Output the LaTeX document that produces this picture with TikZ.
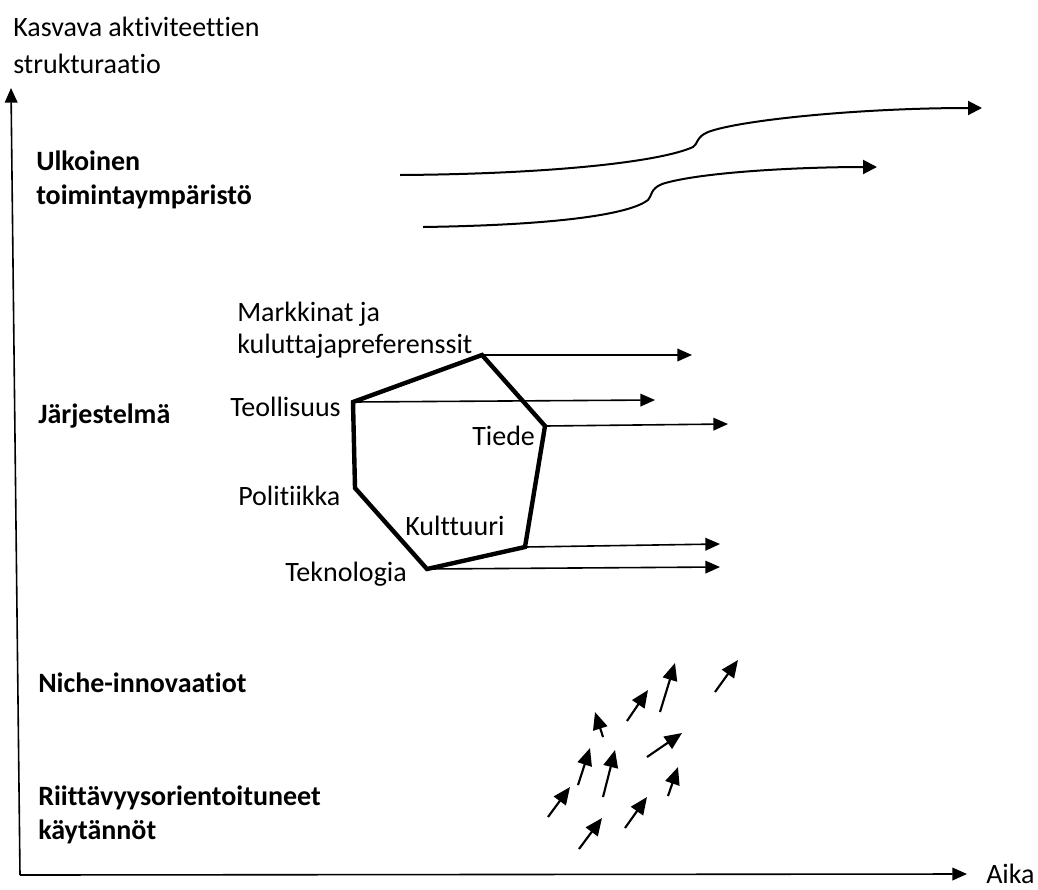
\documentclass[tikz,border=0pt]{standalone}
\usepackage{fontspec}
\setmainfont{Carlito}[Ligatures=NoCommon]
\usetikzlibrary{
    arrows.meta,
    calc,
    positioning
}

\begin{document}
\begin{tikzpicture}[x=0.75pt, y=-0.75pt,
    txt/.style={inner sep=0pt, align=left, font=\fontsize{21}{24.5}\selectfont},
    bold/.style={inner sep=0pt, align=left, font=\fontsize{21}{25}\selectfont\bfseries},
    axis/.style={line width=1.2pt, -{Triangle[length=11pt, width=9.5pt]}},
    trend/.style={line width=1.5pt, -{Triangle[length=10.5pt, width=10.5pt]}},
    edge/.style={line width=3.3pt, line join=miter},
    flow/.style={line width=1.2pt, -{Triangle[length=11pt, width=9.5pt]}},
    niche/.style={line width=1.6pt, -{Triangle[length=13pt, width=11pt]}}]
                        \useasboundingbox (0,0) rectangle (1038,889);

                        % axes
                        \coordinate (origin) at (20,875);
                        \coordinate (ytip) at (11,88);
                        \coordinate (xtip) at (967,874);
                        \draw[axis] (origin) -- (ytip);
                        \draw[axis] (origin) -- (xtip);
                        \node[txt, anchor=north west, font=\fontsize{21}{27.5}\selectfont] (ylabel) at (13,17) {Kasvava aktiviteettien\\strukturaatio};
                        \node[txt, anchor=base west] (xlabel) at (986,883) {Aika};

                        % levels
                        \node[bold, anchor=north west] (ulkoinen) at (36,151) {Ulkoinen\\toimintaympäristö};
                        \node[bold, anchor=base west] (jarjestelma) at (38,423) {Järjestelmä};
                        \node[bold, anchor=base west] (niche) at (38,692) {Niche-innovaatiot};
                        \node[bold, anchor=north west] (riittavyys) at (38,786) {Riittävyysorientoituneet\\käytännöt};

                        % landscape trends
                        \coordinate (up1) at (400,175);
                        \coordinate (up2) at (693,147);
                        \coordinate (up3) at (708,132);
                        \coordinate (upend) at (982,108);
                        \draw[trend] (up1) .. controls (550,174) and (660,162) .. (up2)
                            .. controls (698,144) and (696,137) .. (up3)
                            .. controls (740,120) and (860,108) .. (upend);
                        \coordinate (lo1) at (423,227);
                        \coordinate (lo2) at (648,200);
                        \coordinate (lo3) at (662,184);
                        \coordinate (loend) at (877,167);
                        \draw[trend] (lo1) .. controls (560,225) and (630,214) .. (lo2)
                            .. controls (652,196) and (650,189) .. (lo3)
                            .. controls (700,172) and (800,167) .. (loend);

                        % regime
                        \coordinate (teollisuus) at (353,402);
                        \coordinate (markkinat) at (482,355);
                        \coordinate (tiede) at (545,426);
                        \coordinate (kulttuuri) at (525,547);
                        \coordinate (teknologia) at (427,569);
                        \coordinate (politiikka) at (355,488);
                        \draw[edge] (teollisuus) -- (markkinat) -- (tiede) -- (kulttuuri) -- (teknologia) -- (politiikka) -- cycle;

                        \coordinate (markkinat-end) at (692,355);
                        \coordinate (teollisuus-end) at (655,400);
                        \coordinate (tiede-end) at (728,424);
                        \coordinate (kulttuuri-end) at (720,544);
                        \coordinate (teknologia-end) at (720,567);
                        \draw[flow] (markkinat) -- (markkinat-end);
                        \draw[flow] (teollisuus) -- (teollisuus-end);
                        \draw[flow] (tiede) -- (tiede-end);
                        \draw[flow] (kulttuuri) -- (kulttuuri-end);
                        \draw[flow] (teknologia) -- (teknologia-end);

                        \node[txt, anchor=north west, font=\fontsize{21}{23.5}\selectfont] (markkinat-lbl) at (237,302) {Markkinat ja\\kuluttajapreferenssit};
                        \node[txt, anchor=base west] (teollisuus-lbl) at (230,416) {Teollisuus};
                        \node[txt, anchor=base west] (tiede-lbl) at (472,445) {Tiede};
                        \node[txt, anchor=base west] (politiikka-lbl) at (238,505) {Politiikka};
                        \node[txt, anchor=base west] (kulttuuri-lbl) at (405,535) {Kulttuuri};
                        \node[txt, anchor=base west] (teknologia-lbl) at (285,581) {Teknologia};

                        % niches
                        \foreach \i/\xa/\ya/\xb/\yb in {1/715/692/738/660, 2/660/712/675/663, 3/627/721/648/690,
                                4/603/737/595/712, 5/647/757/682/733, 6/578/785/590/748, 7/603/797/615/750,
                                8/548/817/570/787, 9/668/796/678/767, 10/625/828/647/797, 11/579/849/602/818} {
                            \coordinate (n\i-s) at (\xa,\ya);
                            \coordinate (n\i-e) at (\xb,\yb);
                            \draw[niche] (n\i-s) -- (n\i-e);
                        }
                    \end{tikzpicture}
\end{document}
